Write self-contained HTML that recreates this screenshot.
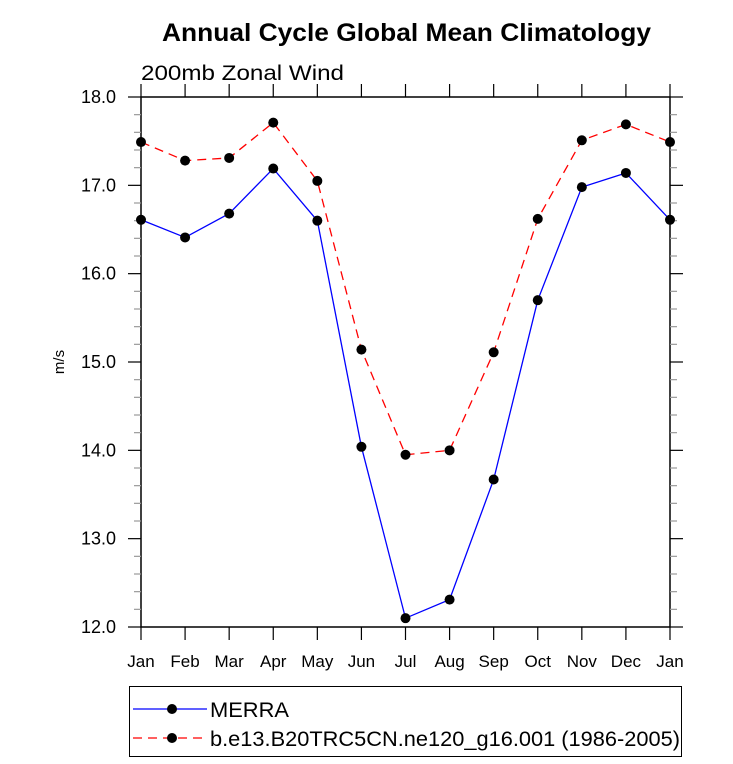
<!DOCTYPE html>
<html><head><meta charset="utf-8"><style>
body{margin:0;background:#fff}
svg{display:block;font-family:"Liberation Sans",sans-serif}
</style></head><body>
<svg id="chart" width="733" height="764" xmlns="http://www.w3.org/2000/svg">
<text x="162" y="41" textLength="489" lengthAdjust="spacingAndGlyphs" font-size="25" font-weight="bold">Annual Cycle Global Mean Climatology</text>
<text x="141" y="80" textLength="203" lengthAdjust="spacingAndGlyphs" font-size="21">200mb Zonal Wind</text>
<text transform="translate(64,362) rotate(-90)" text-anchor="middle" font-size="15">m/s</text>
<g id="axes"></g>
<g id="series"></g>
<rect x="129.5" y="686.5" width="552" height="70" fill="none" stroke="#000" stroke-width="1"/>
<g>
<line x1="133" y1="709" x2="207" y2="709" stroke="#0000ff" stroke-width="1.3"/>
<circle cx="172" cy="709" r="5" fill="#000"/>
<text x="210" y="717" textLength="79" lengthAdjust="spacingAndGlyphs" font-size="21">MERRA</text>
</g>
<g>
<line x1="133" y1="738" x2="207" y2="738" stroke="#ff0000" stroke-width="1.3" stroke-dasharray="9,6"/>
<circle cx="172" cy="738" r="5" fill="#000"/>
<text x="210" y="746" textLength="470" lengthAdjust="spacingAndGlyphs" font-size="21">b.e13.B20TRC5CN.ne120_g16.001 (1986-2005)</text>
</g>
</svg>
<script>
const months = ["Jan","Feb","Mar","Apr","May","Jun","Jul","Aug","Sep","Oct","Nov","Dec","Jan"];
const merra = [16.61,16.41,16.68,17.19,16.60,14.04,12.10,12.31,13.67,15.70,16.98,17.14,16.61];
const model = [17.49,17.28,17.31,17.71,17.05,15.14,13.95,14.00,15.11,16.62,17.51,17.69,17.49];
const yTicks = [12.0,13.0,14.0,15.0,16.0,17.0,18.0];

const NS="http://www.w3.org/2000/svg";
const L=141,R=670,T=97,B=627,yMin=12,yMax=18;
const xs=i=>L+(R-L)*i/(months.length-1);
const ys=v=>B-(v-yMin)/(yMax-yMin)*(B-T);
function mk(tag,attrs,parent){const e=document.createElementNS(NS,tag);for(const k in attrs)e.setAttribute(k,attrs[k]);parent.appendChild(e);return e;}
const ax=document.getElementById('axes');
const fr=mk('rect',{x:L,y:T,width:R-L,height:B-T,fill:'none',stroke:'#000','stroke-width':1.5},ax);


months.forEach((m,i)=>{
  const x=xs(i);
  mk('line',{x1:x,y1:B,x2:x,y2:B+13,stroke:'#000','stroke-width':1.2},ax);
  mk('line',{x1:x,y1:T,x2:x,y2:T-13,stroke:'#000','stroke-width':1.2},ax);
  const t=mk('text',{x:x,y:B+40,'text-anchor':'middle','font-size':17},ax);
  t.textContent=m;
  
  
});
for(let v=yMin;v<=yMax+1e-9;v+=0.2){
  const y=ys(v);const major=Math.abs(v-Math.round(v))<1e-6;
  const len=major?13:7;const c=major?'#000':'#999';
  mk('line',{x1:L,y1:y,x2:L-len,y2:y,stroke:c,'stroke-width':1.2},ax);
  mk('line',{x1:R,y1:y,x2:R+len,y2:y,stroke:c,'stroke-width':1.2},ax);
}
yTicks.forEach(v=>{
  const t=mk('text',{x:L-25,y:ys(v)+6,'text-anchor':'end','font-size':18},ax);
  t.textContent=v.toFixed(1);
  
  
});
const sg=document.getElementById('series');
function series(data,color,dash,name){
  const g=mk('g',{},sg);
  
  
  const pts=data.map((v,i)=>xs(i)+','+ys(v)).join(' ');
  const a={points:pts,fill:'none',stroke:color,'stroke-width':1.3};
  if(dash)a['stroke-dasharray']=dash;
  mk('polyline',a,g);
  data.forEach((v,i)=>{
    const c=mk('circle',{cx:xs(i),cy:ys(v),r:5,fill:'#000'},g);
    
    
  });
}
series(merra,'#0000ff',null,'merra-series');
series(model,'#ff0000','9,6','model-series');
</script>
</body></html>
